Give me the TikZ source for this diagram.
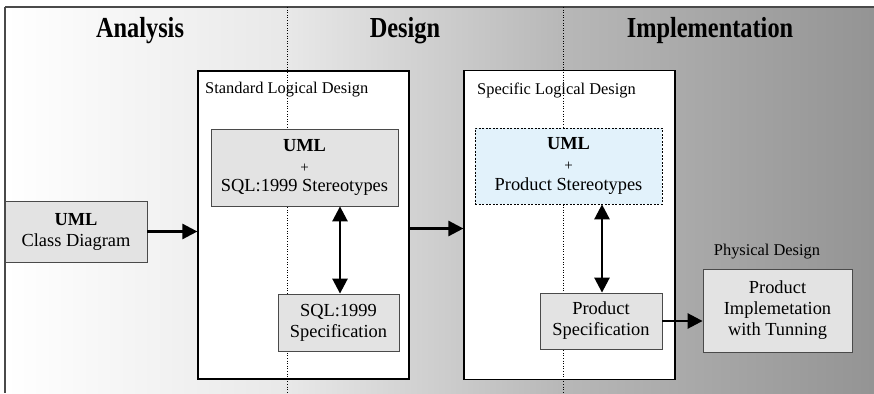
\documentclass[tikz,border=0pt]{standalone}
\usepackage{graphicx}
\usepackage{fontspec}
\setmainfont{Liberation Serif}
\usetikzlibrary{arrows.meta}
\definecolor{gA}{gray}{0.91}
\definecolor{gB}{gray}{0.72}
\definecolor{gC}{gray}{0.58}
\definecolor{boxgray}{HTML}{E3E3E3}
\definecolor{boxblue}{HTML}{E2F2FB}
\definecolor{frame}{HTML}{4A4A4A}
\pgfdeclarehorizontalshading{phasebg}{100bp}{color(0bp)=(white); color(25bp)=(white); color(41.3bp)=(gA); color(57.1bp)=(gB); color(75bp)=(gC); color(100bp)=(gC)}
\tikzset{
  heading/.style={anchor=base, inner sep=0pt, font=\fontsize{29}{29}\selectfont\bfseries},
  bigbox/.style={draw=black, line width=1.2pt, fill=white},
  innerbox/.style={draw=frame, line width=0.8pt, fill=boxgray, align=center, inner sep=0pt, font=\fontsize{18.4}{21}\selectfont},
  bluebox/.style={draw=black, line width=0.7pt, dash pattern=on 2pt off 1.5pt, fill=boxblue, align=center, inner sep=0pt, font=\fontsize{18.4}{21}\selectfont},
  caption/.style={inner sep=0pt, font=\fontsize{16.4}{18}\selectfont},
  flow/.style={line width=2.6pt, -{Triangle[length=15pt,width=15pt]}},
  biflow/.style={line width=2.6pt, {Triangle[length=15pt,width=15pt]}-{Triangle[length=15pt,width=15pt]}},
  phaseline/.style={line width=0.6pt, dotted, black},
}
\begin{document}
\begin{tikzpicture}[x=1pt, y=-1pt]
\useasboundingbox (0,0) rectangle (874,393);
% background
\shade[shading=phasebg] (5,7) rectangle (874,393);
\draw[frame, line width=2pt] (5,7) -- (874,7);
\draw[frame, line width=1.2pt] (5,7) -- (5,393);
% headings
\node[heading] (hA) at (140,38) {\scalebox{0.84}[1]{Analysis}};
\node[heading] (hD) at (405,38) {\scalebox{0.84}[1]{Design}};
\node[heading] (hI) at (710,38) {\scalebox{0.84}[1]{Implementation}};
% big boxes
\node[bigbox, minimum width=211pt, minimum height=308pt] (std) at (303.5,225) {};
\node[bigbox, minimum width=211pt, minimum height=309pt] (spec) at (569.5,225) {};
% phase separators
\coordinate (d1t) at (287,7); \coordinate (d1b) at (287,393);
\coordinate (d2t) at (563,7); \coordinate (d2b) at (563,393);
\draw[phaseline] (d1t) -- (d1b);
\draw[phaseline] (d2t) -- (d2b);
% captions
\node[caption, anchor=west] (stdlab) at (205,90) {Standard Logical Design};
\node[caption, anchor=west] (speclab) at (477,90) {Specific Logical Design};
\node[caption] (physlab) at (767,252) {Physical Design};
% inner boxes
\node[innerbox, minimum width=142pt, minimum height=61pt] (uml) at (76,231.5) {\textbf{UML}\\Class Diagram};
\node[innerbox, minimum width=187pt, minimum height=77pt] (sqlst) at (304.5,167.5) {\textbf{UML}\\{\fontsize{15}{15}\selectfont +}\\[-1.5pt]SQL:1999 Stereotypes};
\node[innerbox, minimum width=121pt, minimum height=57pt] (sqlspec) at (338.5,322.5) {SQL:1999\\Specification};
\node[bluebox, minimum width=187pt, minimum height=76pt] (prodst) at (568.5,166) {\textbf{UML}\\{\fontsize{15}{15}\selectfont +}\\[-1.5pt]Product Stereotypes};
\node[innerbox, minimum width=122pt, minimum height=56pt] (prodspec) at (601,321) {Product\\Specification};
\node[innerbox, minimum width=149pt, minimum height=83pt] (phys) at (777.5,310.5) {Product\\Implemetation\\with Tunning};
% connectors
\draw[flow] (uml.east) -- (uml.east -| std.west);
\draw[flow] ([yshift=-3.5pt]std.east) -- ([yshift=-3.5pt]spec.west);
\draw[biflow] (sqlspec.north -| 340,0) -- (sqlst.south -| 340,0);
\draw[biflow] (prodspec.north -| 602,0) -- (prodst.south -| 602,0);
\draw[flow] (prodspec.east) -- (prodspec.east -| phys.west);
\end{tikzpicture}
\end{document}
